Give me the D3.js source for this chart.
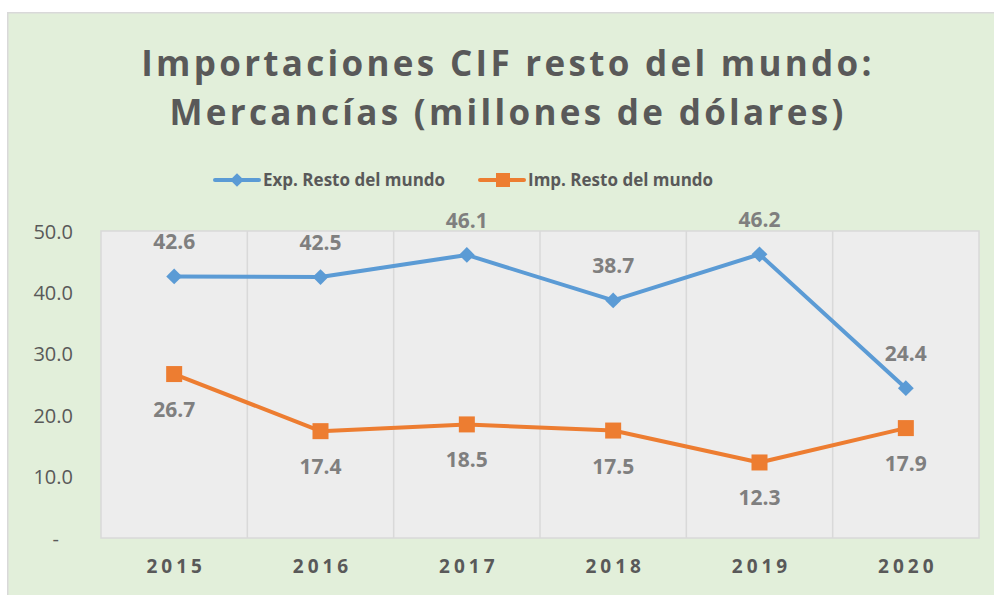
<!DOCTYPE html>
<html>
<head>
<meta charset="utf-8">
<script src="https://cdn.jsdelivr.net/npm/d3@7"></script>
<style>
  body { margin: 0; background: #fff; overflow: hidden; }
  svg { display: block; }
  text { font-family: "Open Sans", "DejaVu Sans", sans-serif; }
</style>
</head>
<body>
<svg></svg>
<script>
const years = ["2015", "2016", "2017", "2018", "2019", "2020"];
const expValues = [42.6, 42.5, 46.1, 38.7, 46.2, 24.4];
const impValues = [26.7, 17.4, 18.5, 17.5, 12.3, 17.9];
const yTicks = [0, 10, 20, 30, 40, 50];

const width = 994, height = 595;
const svg = d3.select("svg")
    .attr("width", width)
    .attr("height", height);

// chart area, border only on top and left edges
svg.append("rect")
    .attr("x", 7).attr("y", 12)
    .attr("width", width - 7).attr("height", height - 12)
    .attr("fill", "#e2efda");
svg.append("path")
    .attr("d", `M7.75,${height} V12.75 H${width}`)
    .attr("fill", "none")
    .attr("stroke", "#d9d9d9")
    .attr("stroke-width", 1.5);

const margin = { top: 231, right: 15, bottom: 57, left: 101 };
const innerWidth = width - margin.left - margin.right;
const innerHeight = height - margin.top - margin.bottom;

const g = svg.append("g")
    .attr("transform", `translate(${margin.left},${margin.top})`);

const x = d3.scaleBand().domain(years).range([0, innerWidth]);
const y = d3.scaleLinear().domain([0, 50]).range([innerHeight, 0]);

// plot background
g.append("rect")
    .attr("width", innerWidth)
    .attr("height", innerHeight)
    .attr("fill", "#ededed")
    .attr("stroke", "#d9d9d9")
    .attr("stroke-width", 1.5);

// vertical gridlines between categories
g.selectAll(".vgrid")
    .data(years.slice(1))
    .enter()
    .append("line")
    .attr("x1", d => x(d)).attr("x2", d => x(d))
    .attr("y1", 0).attr("y2", innerHeight)
    .attr("stroke", "#d9d9d9")
    .attr("stroke-width", 1.5);

// y axis
const yAxis = g.append("g")
    .call(d3.axisLeft(y).tickValues(yTicks).tickSize(0).tickPadding(28)
        .tickFormat(d => d === 0 ? "-" : d.toFixed(1)));
yAxis.select(".domain").remove();
yAxis.selectAll("text")
    .style("font-size", "20px")
    .style("fill", "#595959")
    .attr("dy", "0.35em");
yAxis.selectAll("text").filter(d => d === 0).attr("dx", -14);

// x axis
const xAxis = g.append("g")
    .attr("transform", `translate(0,${innerHeight})`)
    .call(d3.axisBottom(x).tickSize(0).tickPadding(22));
xAxis.select(".domain").remove();
xAxis.selectAll("text")
    .style("font-size", "19px")
    .style("font-weight", "bold")
    .style("letter-spacing", "4px")
    .attr("dx", 2)
    .style("fill", "#595959");

const cx = d => x(d) + x.bandwidth() / 2;

const line = d3.line()
    .x((d, i) => cx(years[i]))
    .y(d => y(d));

// exp series
g.append("path")
    .attr("d", line(expValues))
    .attr("fill", "none")
    .attr("stroke", "#5b9bd5")
    .attr("stroke-width", 4)
    .attr("stroke-linejoin", "round");

g.selectAll(".expm")
    .data(expValues)
    .enter()
    .append("path")
    .attr("d", d3.symbol(d3.symbolDiamond2, 160))
    .attr("transform", (d, i) => `translate(${cx(years[i])},${y(d)})`)
    .attr("fill", "#5b9bd5");

// imp series
g.append("path")
    .attr("d", line(impValues))
    .attr("fill", "none")
    .attr("stroke", "#ed7d31")
    .attr("stroke-width", 4)
    .attr("stroke-linejoin", "round");

g.selectAll(".impm")
    .data(impValues)
    .enter()
    .append("rect")
    .attr("x", (d, i) => cx(years[i]) - 8)
    .attr("y", d => y(d) - 8)
    .attr("width", 16)
    .attr("height", 16)
    .attr("fill", "#ed7d31");

// data labels
g.selectAll(".explabel")
    .data(expValues)
    .enter()
    .append("text")
    .attr("x", (d, i) => cx(years[i]))
    .attr("y", d => y(d) - 27)
    .attr("text-anchor", "middle")
    .style("font-size", "21px")
    .style("font-weight", "bold")
    .style("fill", "#7f7f7f")
    .text(d => d.toFixed(1));

g.selectAll(".implabel")
    .data(impValues)
    .enter()
    .append("text")
    .attr("x", (d, i) => cx(years[i]))
    .attr("y", d => y(d) + 43)
    .attr("text-anchor", "middle")
    .style("font-size", "21px")
    .style("font-weight", "bold")
    .style("fill", "#7f7f7f")
    .text(d => d.toFixed(1));

// title
const title = svg.append("text")
    .attr("text-anchor", "middle")
    .style("font-size", "35px")
    .style("font-weight", "bold")
    .style("letter-spacing", "3.3px")
    .style("fill", "#595959");
title.append("tspan").attr("x", 508).attr("y", 76).text("Importaciones CIF resto del mundo:");
title.append("tspan").attr("x", 508).attr("y", 125).text("Mercancías (millones de dólares)");

// legend
const legendItems = [
    { label: "Exp. Resto del mundo", color: "#5b9bd5", x: 215, shape: "diamond" },
    { label: "Imp. Resto del mundo", color: "#ed7d31", x: 480, shape: "square" }
];
const legend = svg.append("g").attr("transform", "translate(0,180)");
legendItems.forEach(item => {
    legend.append("line")
        .attr("x1", item.x).attr("x2", item.x + 44)
        .attr("y1", 0).attr("y2", 0)
        .attr("stroke", item.color)
        .attr("stroke-width", 4)
        .attr("stroke-linecap", "round");
    if (item.shape === "diamond") {
        legend.append("path")
            .attr("d", d3.symbol(d3.symbolDiamond2, 120))
            .attr("transform", `translate(${item.x + 22},0)`)
            .attr("fill", item.color);
    } else {
        legend.append("rect")
            .attr("x", item.x + 16).attr("y", -7)
            .attr("width", 14).attr("height", 14)
            .attr("fill", item.color);
    }
    legend.append("text")
        .attr("x", item.x + 48)
        .attr("y", 0)
        .attr("dy", "0.35em")
        .style("font-size", "17px")
        .style("font-weight", "bold")
        .style("fill", "#595959")
        .text(item.label);
});
</script>
</body>
</html>
